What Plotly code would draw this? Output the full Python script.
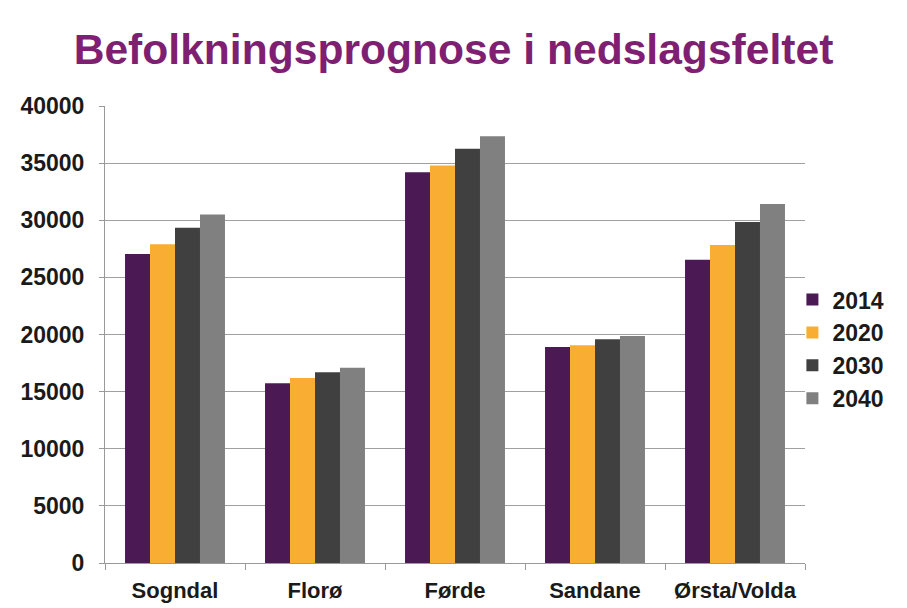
import plotly.graph_objects as go

categories = ["Sogndal", "Florø", "Førde", "Sandane", "Ørsta/Volda"]
years = ["2014", "2020", "2030", "2040"]
v2014 = [27050, 15730, 34200, 18900, 26550]
v2020 = [27900, 16200, 34800, 19050, 27830]
v2030 = [29350, 16700, 36260, 19580, 29850]
v2040 = [30500, 17100, 37350, 19870, 31420]
y_ticks = [0, 5000, 10000, 15000, 20000, 25000, 30000, 35000, 40000]

series = [v2014, v2020, v2030, v2040]
colors = ["#4B1A55", "#F9AE33", "#404040", "#808080"]

fig = go.Figure()
for name, vals, col in zip(years, series, colors):
    fig.add_trace(go.Bar(x=categories, y=vals, name=f"<b>{name}</b>",
                         marker_color=col, marker_line_width=0))

font = "Liberation Sans, Arial, sans-serif"
fig.update_layout(
    width=907, height=608,
    margin=dict(l=105, r=102, t=106, b=45),
    paper_bgcolor="white", plot_bgcolor="white",
    barmode="group", bargap=0.286, bargroupgap=0,
    title=dict(text="<b>Befolkningsprognose i nedslagsfeltet</b>",
               x=0.5, xanchor="center", y=0.92, yanchor="middle",
               font=dict(family=font, size=42.6, color="#7F1F72")),
    font=dict(family=font, color="#1a1a1a"),
    legend=dict(x=0.982, xanchor="left", y=0.468, yanchor="middle",
                font=dict(family=font, size=23, color="#1a1a1a"),
                itemwidth=30, bgcolor="rgba(0,0,0,0)",
                tracegroupgap=0),
    xaxis=dict(showline=True, linecolor="#999999", linewidth=1,
               ticks="outside", ticklen=6, tickcolor="#999999",
               tickson="boundaries", ticklabelstandoff=8,
               tickvals=categories, automargin=False,
               ticktext=[f"<b>{c}</b>" for c in categories],
               tickfont=dict(family=font, size=22, color="#1a1a1a"),
               showgrid=False),
    yaxis=dict(range=[0, 40000], tickvals=y_ticks, automargin=False,
               ticktext=[f"<b>{v}</b>" for v in y_ticks],
               showline=True, linecolor="#999999", linewidth=1,
               ticks="outside", ticklen=5, tickcolor="#999999",
               showgrid=True, gridcolor="#A0A0A0", gridwidth=1,
               zeroline=False, ticklabelstandoff=10,
               tickfont=dict(family=font, size=23, color="#1a1a1a")),
)

fig.write_html("out.html")
